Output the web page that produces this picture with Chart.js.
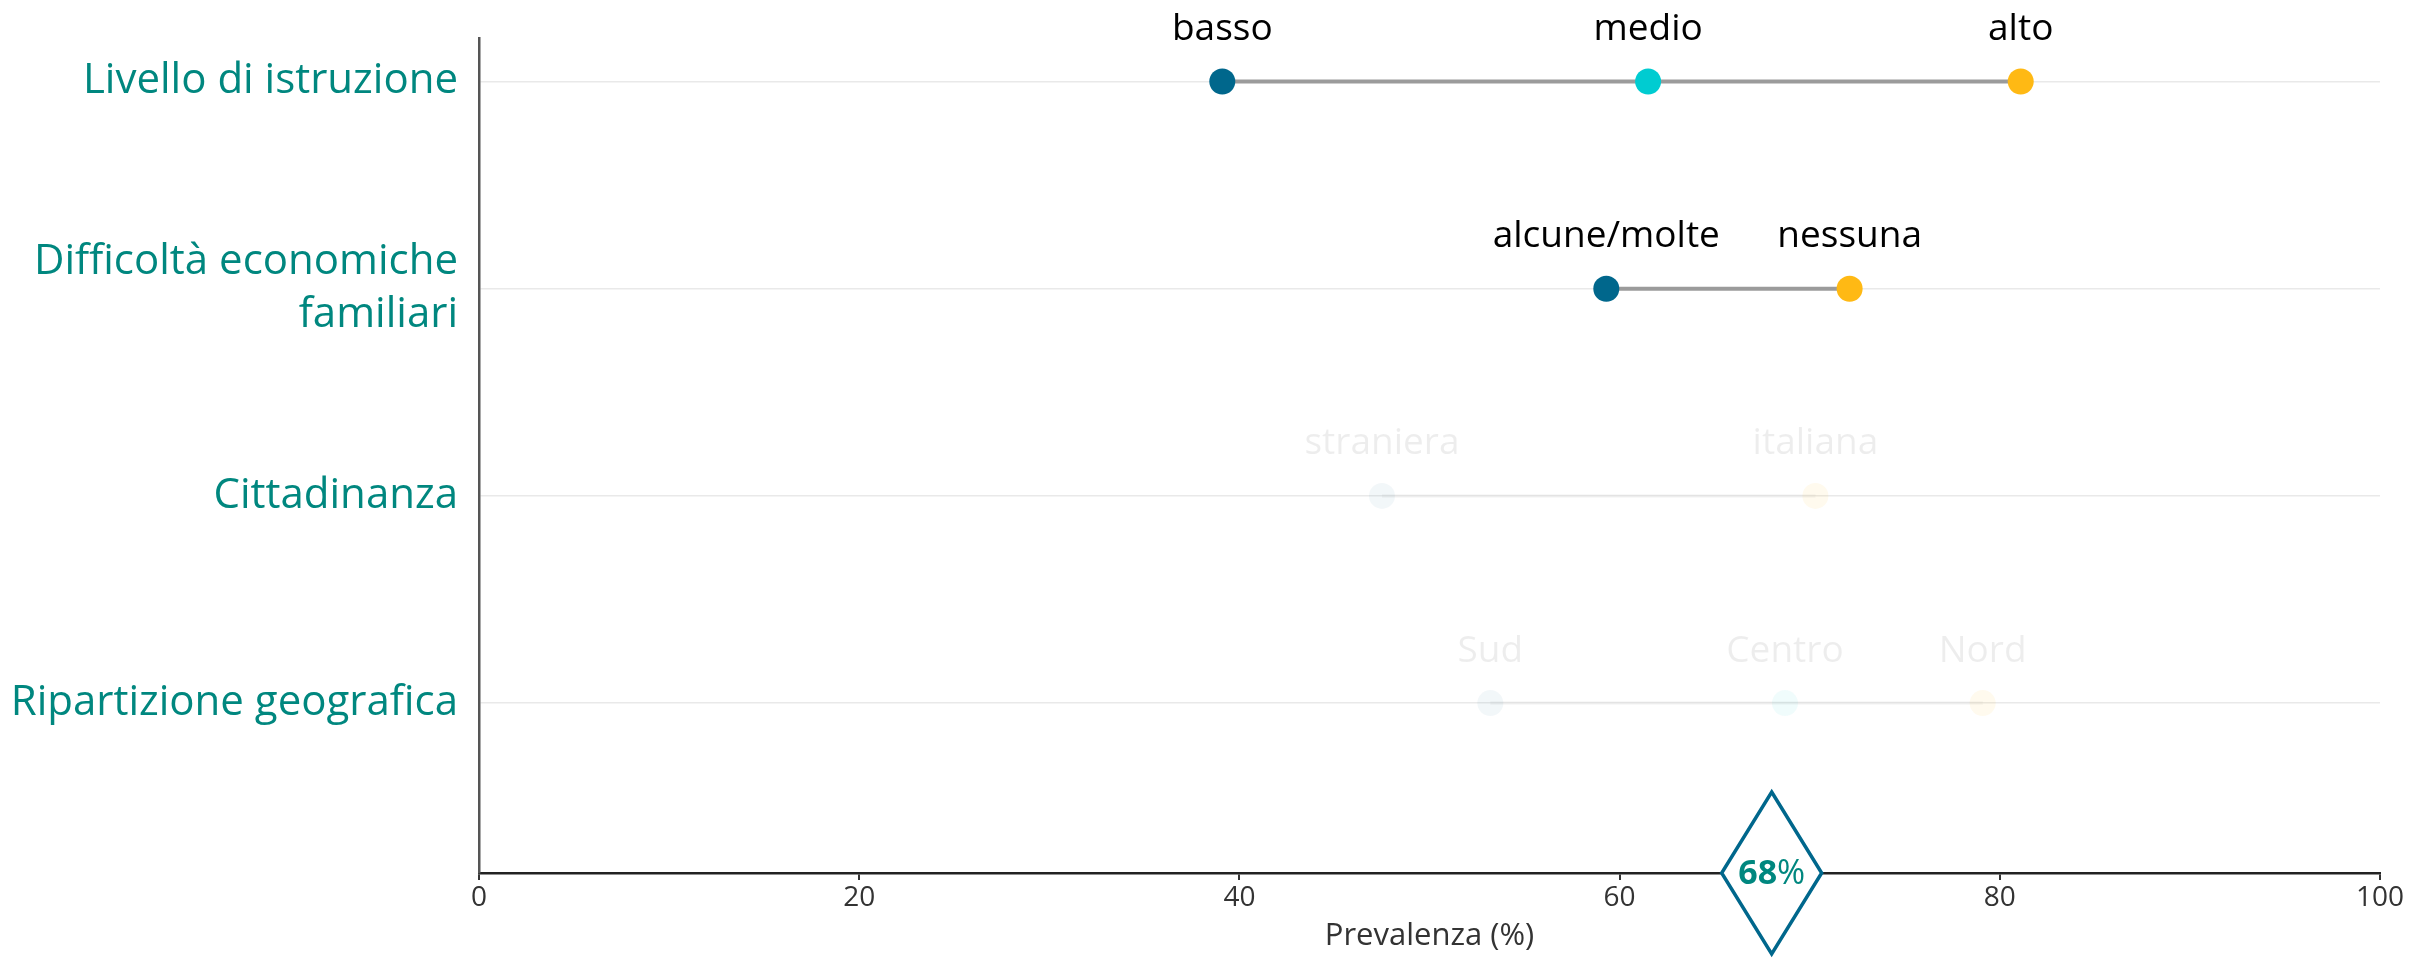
<!DOCTYPE html>
<html><head><meta charset="utf-8">
<script src="https://cdn.jsdelivr.net/npm/chart.js@4/dist/chart.umd.min.js"></script>
<style>html,body{margin:0;padding:0;background:#fff;overflow:hidden}#wrap{width:2413px;height:959px;position:relative}</style>
</head><body><div id="wrap"><canvas id="c"></canvas></div>
<script>
// ---- data ----
const categories = ["Livello di istruzione", ["Difficoltà economiche", "familiari"], "Cittadinanza", "Ripartizione geografica"];
const istruzioneLabels = ["basso", "medio", "alto"];
const istruzioneValues = [39.1, 61.5, 81.1];
const difficoltaLabels = ["alcune/molte", "nessuna"];
const difficoltaValues = [59.3, 72.1];
const cittadinanzaLabels = ["straniera", "italiana"];
const cittadinanzaValues = [47.5, 70.3];
const ripartizioneLabels = ["Sud", "Centro", "Nord"];
const ripartizioneValues = [53.2, 68.7, 79.1];
const overallValue = 68;
const xTickValues = [0, 20, 40, 60, 80, 100];

// ---- styles ----
const BLUE = '#00678c', CYAN = '#00ccd1', YELLOW = '#ffb914';
const fBLUE = 'rgba(0,103,140,0.05)', fCYAN = 'rgba(0,205,210,0.06)', fYELLOW = 'rgba(255,185,21,0.07)';
const TEAL = '#00877f';
const AXIS_FONT = '"Open Sans", sans-serif';

const rows = [
  {labels: istruzioneLabels, values: istruzioneValues, colors: [BLUE, CYAN, YELLOW], line: '#9b9b9b', text: '#000'},
  {labels: difficoltaLabels, values: difficoltaValues, colors: [BLUE, YELLOW], line: '#9b9b9b', text: '#000'},
  {labels: cittadinanzaLabels, values: cittadinanzaValues, colors: [fBLUE, fYELLOW], line: 'rgba(150,150,150,0.07)', text: 'rgba(0,0,0,0.07)'},
  {labels: ripartizioneLabels, values: ripartizioneValues, colors: [fBLUE, fCYAN, fYELLOW], line: 'rgba(150,150,150,0.07)', text: 'rgba(0,0,0,0.07)'}
];

const datasets = rows.map((r, i) => ({
  type: 'line',
  data: r.values.map(v => ({x: v, y: i})),
  pointLabels: r.labels,
  labelColor: r.text,
  borderColor: r.line,
  borderWidth: 4,
  pointBackgroundColor: r.colors,
  pointBorderColor: r.colors,
  pointBorderWidth: 0,
  pointRadius: 13,
  pointHoverRadius: 13,
  showLine: true,
  fill: false
}));

const pointLabelPlugin = {
  id: 'pointLabels',
  afterDatasetsDraw(chart) {
    const ctx = chart.ctx;
    ctx.save();
    ctx.font = '37px "Open Sans", sans-serif';
    ctx.textAlign = 'center';
    ctx.textBaseline = 'middle';
    chart.data.datasets.forEach((ds, di) => {
      const meta = chart.getDatasetMeta(di);
      ctx.fillStyle = ds.labelColor;
      meta.data.forEach((el, j) => {
        ctx.fillText(ds.pointLabels[j], el.x, el.y - 52);
      });
    });
    ctx.restore();
  }
};

const diamondPlugin = {
  id: 'diamond',
  afterDraw(chart) {
    const ctx = chart.ctx;
    const cx = chart.scales.x.getPixelForValue(overallValue);
    const cy = chart.chartArea.bottom;
    const hw = 50, hh = 81;
    ctx.save();
    ctx.beginPath();
    ctx.moveTo(cx, cy - hh);
    ctx.lineTo(cx + hw, cy);
    ctx.lineTo(cx, cy + hh);
    ctx.lineTo(cx - hw, cy);
    ctx.closePath();
    ctx.fillStyle = '#fff';
    ctx.fill();
    ctx.lineWidth = 3.5;
    ctx.strokeStyle = '#00678c';
    ctx.stroke();
    const numTxt = String(overallValue), pct = '%';
    const bFont = 'bold 34px "Open Sans", sans-serif', nFont = '34px "Open Sans", sans-serif';
    ctx.font = bFont; const w1 = ctx.measureText(numTxt).width;
    ctx.font = nFont; const w2 = ctx.measureText(pct).width;
    const x0 = cx - (w1 + w2) / 2;
    ctx.textBaseline = 'middle';
    ctx.textAlign = 'left';
    ctx.fillStyle = TEAL;
    ctx.font = bFont; ctx.fillText(numTxt, x0, cy + 1);
    ctx.font = nFont; ctx.fillText(pct, x0 + w1, cy + 1);
    ctx.restore();
  }
};

new Chart(document.getElementById('c'), {
  type: 'line',
  data: {datasets},
  plugins: [pointLabelPlugin, diamondPlugin],
  options: {
    responsive: true,
    maintainAspectRatio: false,
    animation: false,
    events: [],
    layout: {padding: {top: 38, right: 33, left: 0, bottom: 0}},
    plugins: {legend: {display: false}, tooltip: {enabled: false}},
    scales: {
      x: {
        type: 'linear',
        position: 'bottom',
        min: 0, max: 100,
        afterBuildTicks: s => { s.ticks = xTickValues.map(v => ({value: v})); },
        afterFit: s => { s.height = 86; },
        ticks: {
          color: '#333',
          font: {family: AXIS_FONT, size: 28},
          padding: 1,
          maxRotation: 0
        },
        grid: {display: true, drawOnChartArea: false, drawTicks: true, tickLength: 7, color: '#333', lineWidth: 2},
        border: {display: true, color: '#222', width: 2.5},
        title: {
          display: true,
          text: 'Prevalenza (%)',
          color: '#333',
          font: {family: AXIS_FONT, size: 31},
          padding: {top: 0, bottom: 4}
        }
      },
      y: {
        type: 'linear',
        reverse: true,
        min: -0.21, max: 3.82,
        afterBuildTicks: s => { s.ticks = categories.map((c, i) => ({value: i})); },
        afterFit: s => { s.width = 479; s.paddingTop = 0; s.paddingBottom = 0; },
        ticks: {
          color: TEAL,
          font: {family: '"Open Sans", sans-serif', size: 42, lineHeight: 1.25},
          padding: 21,
          callback: v => categories[v]
        },
        grid: {color: '#e9e9e9', lineWidth: 1.5, drawTicks: false},
        border: {display: true, color: '#555', width: 2.5}
      }
    }
  }
});
</script>
</body></html>
